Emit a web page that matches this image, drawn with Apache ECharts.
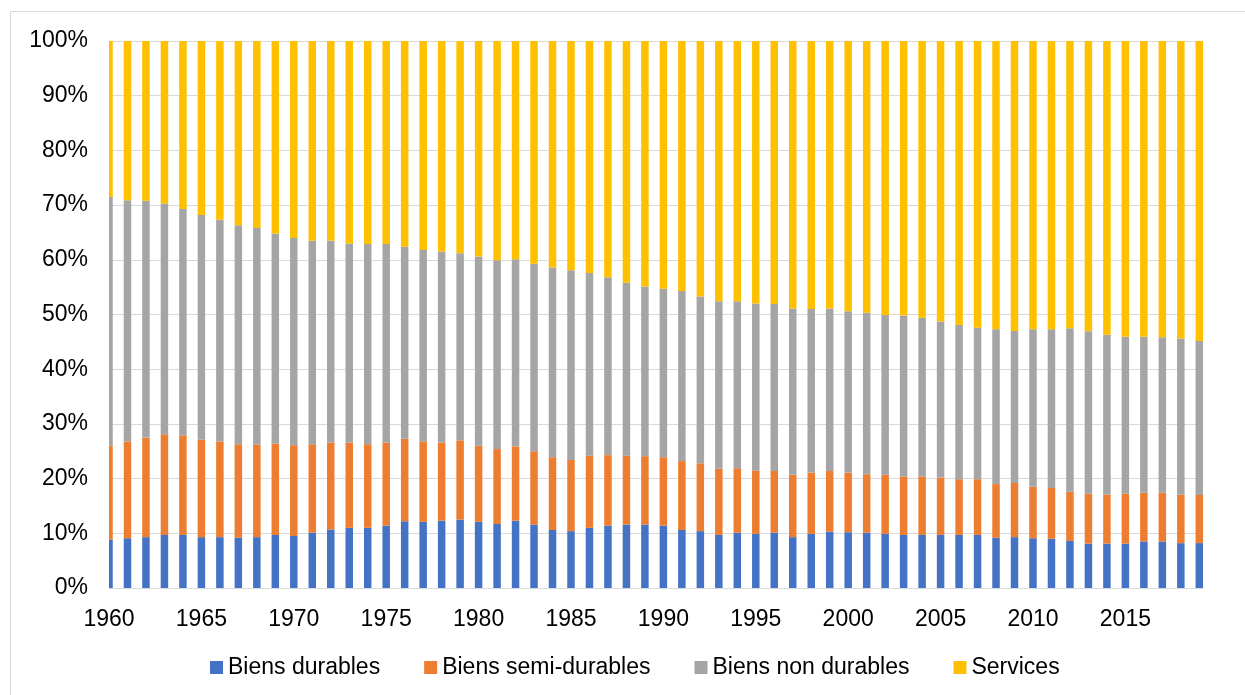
<!DOCTYPE html>
<html>
<head>
<meta charset="utf-8">
<script src="https://cdn.jsdelivr.net/npm/echarts@6/dist/echarts.min.js"></script>
<style>
  html, body { margin: 0; padding: 0; background: #fff; }
  #chart { width: 1245px; height: 695px; }
</style>
</head>
<body>
<div id="chart"></div>
<script>
// Years covered by the series
const years = [];
for (let y = 1960; y <= 2019; y++) years.push(y);

// Share of household consumption by type (%), one value per year
const biensDurables = [
  8.8, 9.1, 9.3, 9.7, 9.7, 9.3, 9.3, 9.2, 9.3, 9.7,
  9.5, 10.1, 10.7, 11.0, 11.0, 11.4, 12.2, 12.1, 12.3, 12.5,
  12.1, 11.7, 12.3, 11.6, 10.6, 10.4, 11.0, 11.4, 11.6, 11.6,
  11.4, 10.6, 10.4, 9.7, 10.1, 9.9, 10.1, 9.3, 9.9, 10.3,
  10.2, 10.1, 9.9, 9.7, 9.7, 9.7, 9.7, 9.7, 9.2, 9.3,
  9.1, 9.0, 8.6, 8.1, 8.1, 8.1, 8.5, 8.5, 8.2, 8.2
];
const biensSemiDurables = [
  17.3, 17.7, 18.2, 18.4, 18.2, 17.8, 17.5, 17.1, 16.9, 16.7,
  16.6, 16.2, 15.9, 15.6, 15.3, 15.2, 15.1, 14.7, 14.3, 14.5,
  13.9, 13.7, 13.6, 13.4, 13.3, 13.0, 13.2, 12.9, 12.6, 12.5,
  12.5, 12.6, 12.4, 12.1, 11.8, 11.6, 11.3, 11.4, 11.2, 11.1,
  10.9, 10.7, 10.8, 10.7, 10.7, 10.5, 10.2, 10.2, 9.8, 9.9,
  9.4, 9.3, 9.0, 9.1, 9.0, 9.1, 8.9, 8.9, 8.9, 8.8
];
const biensNonDurables = [
  45.4, 44.1, 43.3, 42.2, 41.4, 41.1, 40.5, 40.0, 39.6, 38.4,
  37.9, 37.2, 36.9, 36.4, 36.6, 36.3, 35.1, 35.0, 34.9, 34.2,
  34.6, 34.5, 34.2, 34.3, 34.7, 34.7, 33.4, 32.5, 31.6, 31.0,
  30.8, 31.1, 30.5, 30.6, 30.5, 30.5, 30.5, 30.4, 29.9, 29.7,
  29.5, 29.5, 29.2, 29.4, 29.0, 28.5, 28.2, 27.7, 28.3, 27.8,
  28.8, 29.0, 29.9, 29.7, 29.2, 28.7, 28.5, 28.4, 28.5, 28.1
];
const services = [
  28.5, 29.1, 29.2, 29.7, 30.7, 31.8, 32.7, 33.7, 34.2, 35.2,
  36.0, 36.5, 36.5, 37.0, 37.1, 37.1, 37.6, 38.2, 38.5, 38.8,
  39.4, 40.1, 39.9, 40.7, 41.4, 41.9, 42.4, 43.2, 44.2, 44.9,
  45.3, 45.7, 46.7, 47.6, 47.6, 48.0, 48.1, 48.9, 49.0, 48.9,
  49.4, 49.7, 50.1, 50.2, 50.6, 51.3, 51.9, 52.4, 52.7, 53.0,
  52.7, 52.7, 52.5, 53.0, 53.7, 54.0, 54.0, 54.1, 54.4, 54.8
];

const seriesNames = ['Biens durables', 'Biens semi-durables', 'Biens non durables', 'Services'];
const seriesColors = ['#4472C4', '#ED7D31', '#A5A5A5', '#FFC000'];
const seriesValues = [biensDurables, biensSemiDurables, biensNonDurables, services];

// 100 % stacked: each year's column is scaled to its own total
const totals = years.map((_, i) => seriesValues.reduce((s, arr) => s + arr[i], 0));

const FONT = '"Liberation Sans", Arial, sans-serif';
const GRID = { left: 109, right: 42, top: 41, bottom: 107 };

const chart = echarts.init(document.getElementById('chart'), null, { renderer: 'canvas' });

chart.setOption({
  backgroundColor: '#ffffff',
  animation: false,
  textStyle: { fontFamily: FONT },
  graphic: [
    {
      // chart area frame
      type: 'rect',
      shape: { x: 10.5, y: 11.5, width: 1260, height: 720 },
      style: { fill: 'none', stroke: '#D9D9D9', lineWidth: 1 },
      silent: true,
      z: -10
    },
    {
      // value-axis bars are not clipped along the base axis: hide the part left of the plot
      type: 'rect',
      shape: { x: GRID.left - 14, y: GRID.top - 2, width: 14, height: 695 - GRID.top - GRID.bottom + 4 },
      style: { fill: '#ffffff' },
      silent: true,
      z: 100
    }
  ],
  grid: Object.assign({ containLabel: false }, GRID),
  legend: {
    left: 210,
    top: 656,
    padding: 0,
    icon: 'rect',
    itemWidth: 13,
    itemHeight: 13,
    itemGap: 44,
    textStyle: { fontSize: 23, color: '#000', fontFamily: FONT },
    data: seriesNames
  },
  xAxis: {
    type: 'value',
    min: 1960,
    max: 2019.2,
    interval: 5,
    axisLine: { show: true, lineStyle: { color: '#D9D9D9', width: 1 } },
    axisTick: { show: false },
    splitLine: { show: false },
    axisLabel: {
      show: true,
      showMaxLabel: false,
      margin: 20,
      fontSize: 23,
      color: '#000',
      fontFamily: FONT,
      formatter: v => (Number.isInteger(v) ? String(v) : '')
    }
  },
  yAxis: {
    type: 'value',
    min: 0,
    max: 100,
    interval: 10,
    axisLine: { show: false },
    axisTick: { show: false },
    splitLine: { show: true, lineStyle: { color: '#D9D9D9', width: 1 } },
    axisLabel: {
      margin: 21,
      fontSize: 23,
      color: '#000',
      fontFamily: FONT,
      padding: [5, 0, 0, 0],
      formatter: '{value}%'
    }
  },
  // Each point is [share, year]; the share comes first so it is the stacked dimension
  series: seriesNames.map((name, k) => ({
    name: name,
    type: 'bar',
    stack: 'parts',
    barWidth: 7.5,
    clip: true,
    dimensions: ['part', 'annee'],
    encode: { x: 'annee', y: 'part' },
    itemStyle: { color: seriesColors[k] },
    emphasis: { disabled: true },
    data: years.map((yr, i) => [seriesValues[k][i] / totals[i] * 100, yr])
  }))
});
</script>
</body>
</html>
